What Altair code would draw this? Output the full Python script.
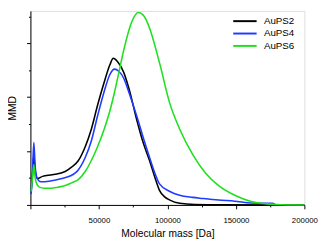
import altair as alt
import pandas as pd

# AuPS2 (black)
x_ps2 = [500, 1500, 2500, 3500, 5200, 8800, 15900, 25400, 30000, 34900, 40000, 44400, 49000,
         53900, 58000, 60500, 63500, 68100, 72000, 77600, 82000, 87000, 91000, 94200, 98000,
         101800, 109000, 120000, 140000, 200000]
y_ps2 = [0.25, 0.55, 0.92, 0.62, 0.49, 0.53, 0.56, 0.62, 0.70, 0.82, 1.08, 1.40, 1.85,
         2.28, 2.60, 2.72, 2.66, 2.46, 2.15, 1.58, 1.18, 0.82, 0.50, 0.27, 0.15,
         0.09, 0.03, 0.008, 0.002, 0.0]

# AuPS4 (blue)
x_ps4 = [500, 1500, 2500, 3500, 5200, 7600, 13500, 23000, 32500, 34900, 40000, 44400, 49000,
         53900, 58000, 61400, 64500, 68100, 72000, 77600, 82000, 87000, 91000, 94200, 101800,
         108900, 118400, 125500, 137400, 149200, 161100, 176500, 178500]
y_ps4 = [0.20, 0.60, 1.16, 0.70, 0.48, 0.43, 0.44, 0.49, 0.59, 0.65, 0.88, 1.18, 1.65,
         2.11, 2.42, 2.52, 2.48, 2.35, 2.08, 1.65, 1.28, 0.88, 0.58, 0.39, 0.25,
         0.18, 0.14, 0.12, 0.09, 0.07, 0.035, 0.03, 0.01]

# AuPS6 (green)
x_ps6 = [500, 1500, 2500, 3500, 4500, 6500, 10000, 15000, 20000, 25400, 30000, 34900, 40000,
         44400, 49000, 53900, 57500, 61000, 64500, 68100, 74000, 78800, 83000, 87000, 94200,
         101800, 108900, 118400, 127900, 137400, 149200, 161100, 172900, 182400, 200000]
y_ps6 = [0.25, 0.50, 0.75, 0.50, 0.40, 0.33, 0.31, 0.31, 0.33, 0.36, 0.41, 0.47, 0.62,
         0.82, 1.08, 1.41, 1.70, 2.05, 2.45, 2.87, 3.40, 3.57, 3.50, 3.28, 2.64,
         1.88, 1.41, 0.94, 0.59, 0.36, 0.18, 0.065, 0.02, 0.005, 0.0]

series = ["AuPS2", "AuPS4", "AuPS6"]
colors = ["#000000", "#1f3bff", "#1fe01f"]

rows = []
for name, xs, ys in zip(series, [x_ps2, x_ps4, x_ps6], [y_ps2, y_ps4, y_ps6]):
    for xv, yv in zip(xs, ys):
        rows.append({"mass": xv, "mmd": yv, "sample": name})
df = pd.DataFrame(rows)

x_ticks = [0, 25000, 50000, 75000, 100000, 125000, 150000, 175000, 200000]
y_ticks = [0, 0.5, 1, 1.5, 2, 2.5, 3, 3.5]

chart = alt.Chart(df).mark_line(strokeWidth=1.6, interpolate="monotone", clip=False).encode(
    x=alt.X("mass:Q",
            scale=alt.Scale(domain=[0, 200000], nice=False, zero=False),
            axis=alt.Axis(title="Molecular mass [Da]", values=x_ticks, format="d",
                          labelExpr="datum.value % 50000 === 0 && datum.value > 0 ? datum.label : ''",
                          tickSize={"condition": {"test": "datum.value % 50000 === 0", "value": 4}, "value": 2},
                          grid=False, labelFontSize=8, titleFontSize=10.5, labelPadding=8,
                          titlePadding=4, titleFontWeight="normal", labelFlush=False,
                          labelOverlap=False)),
    y=alt.Y("mmd:Q",
            scale=alt.Scale(domain=[0, 3.6], nice=False),
            axis=alt.Axis(title="MMD", values=y_ticks, labels=False,
                          tickSize={"condition": {"test": "datum.value % 1 === 0", "value": 4}, "value": 2},
                          grid=False, titleFontSize=10.5, titlePadding=8.5,
                          titleFontWeight="normal")),
    color=alt.Color("sample:N",
                    scale=alt.Scale(domain=series, range=colors),
                    legend=alt.Legend(title=None, orient="none", legendX=215, legendY=5.5,
                                      symbolType="M-3,0H3", symbolSize=64, symbolStrokeWidth=2,
                                      labelFontSize=10, labelOffset=14.5, rowPadding=2.7,
                                      padding=0)),
).properties(
    width=281, height=199,
    autosize=alt.AutoSizeParams(type="none"),
    padding={"left": 23, "top": 0, "right": 16, "bottom": 34},
).configure_view(stroke=None).configure(
    font="Liberation Sans"
).configure_axis(
    domainColor="#000000", tickColor="#000000", labelColor="#000000", titleColor="#000000",
    domainWidth=1, tickWidth=1, labelFont="Liberation Sans", titleFont="Liberation Sans"
).configure_legend(labelFont="Liberation Sans", labelColor="#000000")

chart.save("out.html", embed_options={"renderer": "svg", "actions": False})
